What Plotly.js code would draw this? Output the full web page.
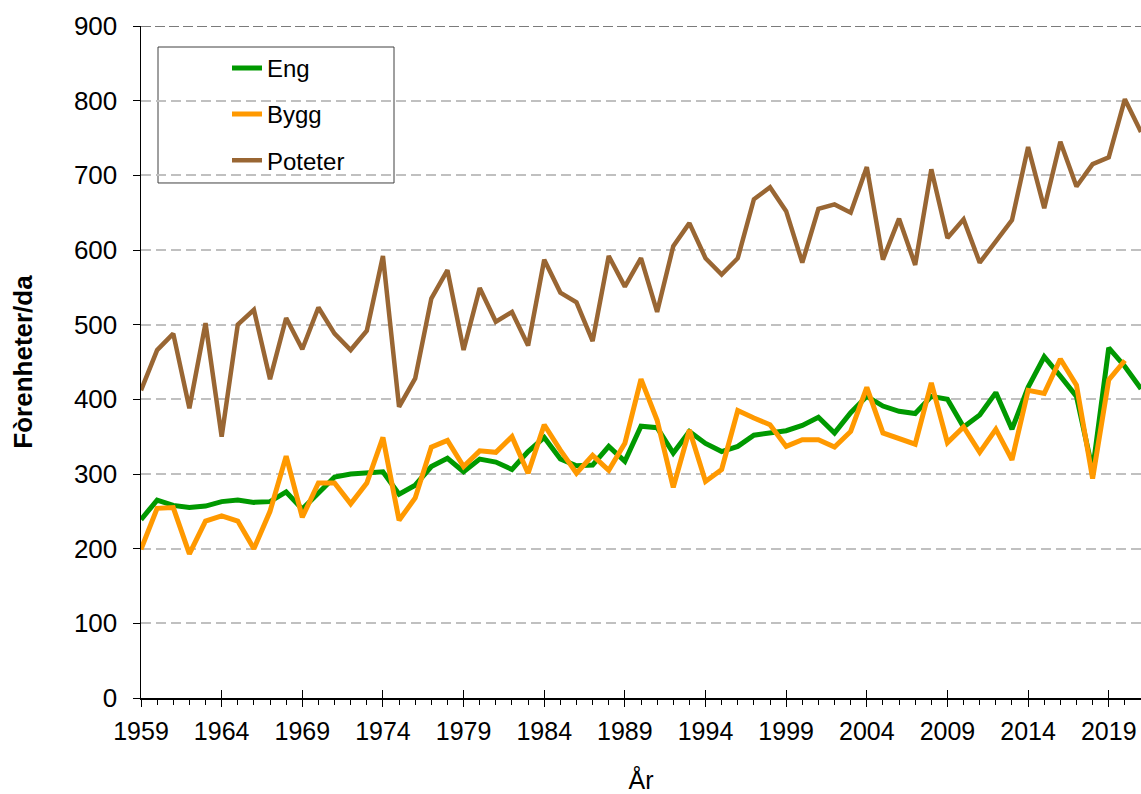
<!DOCTYPE html>
<html>
<head>
<meta charset="utf-8">
<script src="https://cdn.plot.ly/plotly-3.0.1.min.js"></script>
<style>
html,body{margin:0;padding:0;background:#fff;}
#chart{width:1141px;height:794px;}
</style>
</head>
<body>
<div id="chart"></div>
<script>
const years = [1959,1960,1961,1962,1963,1964,1965,1966,1967,1968,
  1969,1970,1971,1972,1973,1974,1975,1976,1977,1978,
  1979,1980,1981,1982,1983,1984,1985,1986,1987,1988,
  1989,1990,1991,1992,1993,1994,1995,1996,1997,1998,
  1999,2000,2001,2002,2003,2004,2005,2006,2007,2008,
  2009,2010,2011,2012,2013,2014,2015,2016,2017,2018,
  2019,2020,2021];

const eng = [239,265,258,255,257,263,265,262,263,276,
  253,274,296,300,302,303,273,285,310,321,
  303,320,316,306,330,349,320,311,312,337,
  317,364,362,328,357,341,330,337,352,355,
  358,365,376,355,382,404,391,384,381,404,
  400,363,379,409,360,416,457,431,404,305,
  469,444,414];

const bygg = [199,254,255,193,237,244,237,200,250,324,
  242,288,288,260,288,349,238,268,336,345,
  310,331,329,350,301,366,332,301,325,305,
  341,427,372,282,359,290,306,385,375,366,
  337,346,346,336,357,416,355,348,340,422,
  342,363,329,360,319,412,408,454,419,294,
  426,452,null];

const poteter = [412,466,488,388,502,350,500,520,427,509,
  467,523,488,466,492,592,390,428,535,573,
  466,549,504,517,472,587,543,530,478,592,
  551,589,517,605,636,589,567,589,668,684,
  652,583,655,661,650,711,587,642,580,708,
  616,641,583,611,640,738,656,745,685,715,
  724,802,758];

const seriesNames = ["Eng","Bygg","Poteter"];
const seriesColors = ["#009900","#ff9900","#996633"];
const seriesWidths = [5,5,4.5];
const seriesData = [eng,bygg,poteter];

const FONT = "Liberation Sans, Arial, sans-serif";

const traces = seriesData.map((d,i)=>({
  type:"scatter", mode:"lines", name:seriesNames[i], x:years, y:d,
  line:{color:seriesColors[i], width:seriesWidths[i]},
  legendgroup:"g"+i, connectgaps:false
}));
traces.push({type:"scatter", mode:"lines", x:[], y:[], xaxis:"x2", yaxis:"y", showlegend:false, hoverinfo:"skip"});

const layout = {
  width:1141, height:794,
  margin:{l:141, r:0, t:26, b:96},
  paper_bgcolor:"#fff", plot_bgcolor:"#fff",
  font:{family:FONT, size:25, color:"#000"},
  showlegend:true,
  legend:{x:0.086, y:0.9705, xanchor:"left", yanchor:"top",
    bgcolor:"rgba(0,0,0,0)", borderwidth:0,
    font:{family:FONT, size:24, color:"#000"},
    tracegroupgap:12, traceorder:"grouped"},
  xaxis:{range:[1959,2021], tick0:1959, dtick:5, tickmode:"linear",
    ticks:"outside", ticklen:7, tickwidth:1, tickcolor:"#000",
    minor:{ticks:"outside", ticklen:5, dtick:1, tick0:1959, tickcolor:"#000", showgrid:false},
    showline:true, linecolor:"#000", linewidth:1.5, showgrid:false, zeroline:false,
    tickfont:{family:FONT, size:25}, ticklabelstandoff:3,
    title:{text:"År", font:{family:FONT, size:25}, standoff:32}, automargin:false},
  xaxis2:{range:[1959,2021], overlaying:"x", anchor:"y", side:"bottom",
    tick0:1959, dtick:5, tickmode:"linear", ticks:"inside", ticklen:8, tickwidth:1, tickcolor:"#000",
    showticklabels:false, showgrid:false, zeroline:false, showline:false},
  yaxis:{range:[0,900], dtick:100, tick0:0, tickmode:"linear",
    ticks:"outside", ticklen:7, tickwidth:1, tickcolor:"#000",
    showline:true, linecolor:"#000", linewidth:1.5, zeroline:false,
    showgrid:true, gridcolor:"#c0c0c0", gridwidth:2, griddash:"10px,5px",
    tickfont:{family:FONT, size:26}, ticklabelstandoff:10,
    title:{text:"Fòrenheter/da", font:{family:FONT, size:26, weight:"bold"}, standoff:34}, automargin:false},
  shapes:[
    {type:"line", xref:"paper", yref:"y", x0:0, x1:1, y0:900, y1:900, layer:"between",
      line:{color:"#505050", width:1.5, dash:"10px,4px"}},
    {type:"rect", xref:"paper", yref:"paper", x0:0.017, x1:0.253, y0:0.7664, y1:0.96875, layer:"between",
      fillcolor:"#ffffff", line:{color:"#404040", width:1}}
  ]
};

Plotly.newPlot("chart", traces, layout, {displayModeBar:false, staticPlot:true});
</script>
</body>
</html>
